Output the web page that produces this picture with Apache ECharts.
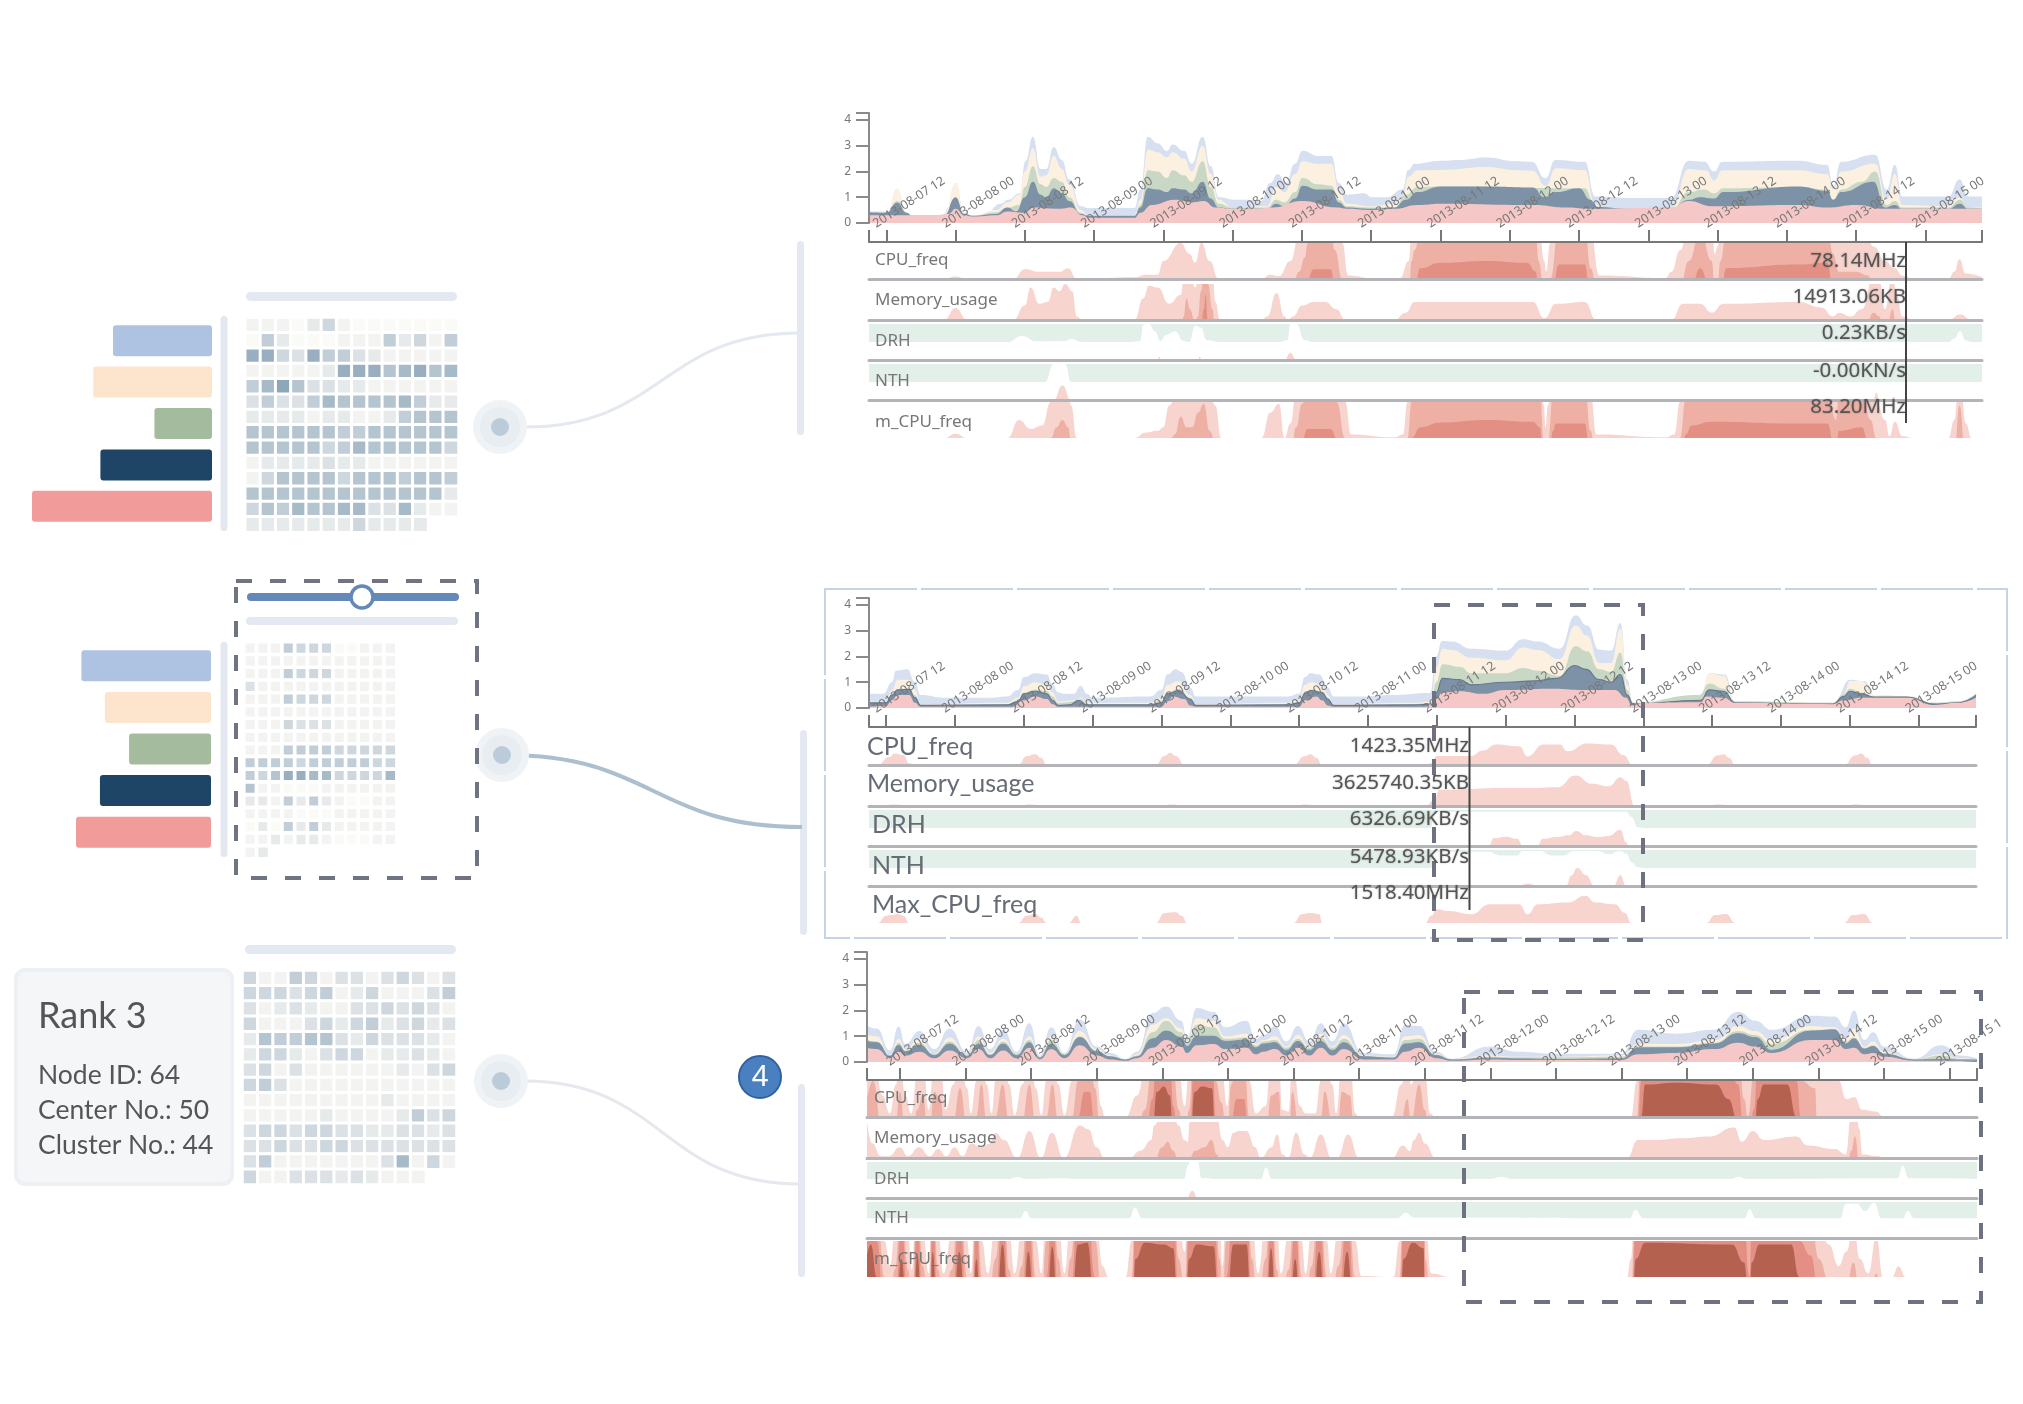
<!DOCTYPE html>
<html>
<head>
<meta charset="utf-8">
<title>Rank views</title>
<script src="https://cdn.jsdelivr.net/npm/echarts@6/dist/echarts.min.js"></script>
<style>
  html, body { margin: 0; padding: 0; background: #fff; }
  #main { width: 2023px; height: 1404px; filter: blur(0.6px); }
</style>
</head>
<body>
<div id="main"></div>
<script>
// ---------- data: x is hours since 2013-08-07 00:00 ----------
const ticksA = ['2013-08-07 12','2013-08-08 00','2013-08-08 12','2013-08-09 00','2013-08-09 12','2013-08-10 00','2013-08-10 12','2013-08-11 00','2013-08-11 12','2013-08-12 00','2013-08-12 12','2013-08-13 00','2013-08-13 12','2013-08-14 00','2013-08-14 12','2013-08-15 00'];
const ticksB = ticksA.concat(['2013-08-15 1']);
const stripNames = ['CPU_freq', 'Memory_usage', 'DRH', 'NTH', 'm_CPU_freq'];
const stripNames2 = ['CPU_freq', 'Memory_usage', 'DRH', 'NTH', 'Max_CPU_freq'];

// row 1, cumulative outlines of the stack
const r1Blue = [[9,.45],[11.5,.45],[12.5,.4],[13.9,1.3],[15.5,.4],[16.5,.28],[21.8,.28],[22.8,.6],[24,1.55],[25.5,.4],[27,.28],[29,.33],[31.8,.75],[33.1,.9],[35.1,1.15],[36.1,2.4],[37.4,3.35],[38.7,2.1],[39.7,2.1],[41,2.95],[42.4,2.45],[43.7,1.7],[45.7,.65],[47,.58],[55,.58],[56,1.3],[57.3,3.35],[59,3.1],[60.6,2.8],[61.6,3.05],[63.6,2.8],[64.9,2.3],[66.8,3.35],[68.2,2.2],[69.6,1],[72.5,.9],[74.5,.9],[76.9,.85],[78.5,1.55],[79.8,1.9],[81.2,1.55],[82.8,2.3],[84.1,2.8],[86.8,2.6],[89.1,2.6],[90.4,1.55],[91.8,1.1],[94.8,1.15],[96.1,1],[98.7,1],[101.4,1.3],[102.4,2.05],[103.5,2.3],[108,2.42],[111.4,2.45],[115.9,2.54],[121,2.4],[123.8,2.38],[126.2,1.74],[127.9,2.45],[133,2.38],[134.8,1.03],[141.7,.97],[147.9,.97],[151,2.42],[153.7,2.38],[155.4,2],[156.8,2.38],[169.9,2.42],[175,2.26],[176,1.42],[177.4,2.38],[183.3,2.65],[185.3,1.3],[186.7,2.26],[188,1.03],[196,1.03],[197.9,1.7],[199.4,1.03],[202,1.03]];
const r1Cream = [[9,.4],[12,.4],[13.9,1.35],[15.5,.4],[16.5,.28],[22,.28],[24,1.55],[25.5,.35],[27,.28],[31,.5],[33,.8],[35,1.1],[36,2],[37.4,2.9],[38.7,1.8],[39.7,1.85],[41,2.6],[42.4,2.1],[43.7,1.5],[45.7,.5],[47,.3],[55,.3],[56,.9],[57.3,2.85],[59,2.75],[60.6,2.55],[61.6,2.75],[63.6,2.5],[64.9,2],[66.8,3],[68.2,1.9],[69.6,.9],[72,.6],[78,.65],[79.5,1.4],[81,1.2],[82.8,1.9],[84.1,2.4],[86.8,2.3],[89.1,2.3],[90.4,1.3],[91.8,.75],[96,.65],[100,.75],[101.4,1],[102.4,1.8],[104,2.05],[108,2.06],[116,2.17],[121,2.05],[124,2.03],[126.2,1.45],[128,2.13],[133,2.06],[134.8,.7],[137,.6],[141,.45],[148,.55],[151,2.1],[154,2.05],[155.4,1.65],[156.8,2.05],[170,2.05],[175,1.9],[176,1.3],[177.4,2],[183.3,2.3],[185.3,.9],[186.7,1.9],[188,.7],[196,.65],[197.9,1],[199.4,.6],[202,.6]];
const r1Green = [[9,.4],[12,.4],[13.9,.85],[15.5,.4],[16.5,.28],[22,.28],[24,.95],[25.5,.35],[27,.28],[31,.42],[33,.6],[35,.7],[36,1.4],[37.4,2.2],[38.7,1.5],[39.7,1.4],[41,1.75],[42.4,1.6],[43.7,1],[45.7,.4],[47,.28],[55,.28],[56,.7],[57.3,2.05],[59,2],[60.6,1.75],[61.6,2.05],[63.6,1.85],[64.9,1.6],[66.8,2.4],[68.2,1.4],[69.6,.75],[72,.6],[78,.6],[79.5,.9],[81,.8],[82.8,1.2],[84.1,1.75],[86.8,1.5],[89.1,1.45],[90.4,.9],[91.8,.65],[96,.6],[100,.6],[102,1.1],[104,1.4],[108,1.42],[133,1.35],[134.8,.65],[141,.45],[148,.5],[151,1.2],[153.7,1.3],[155.4,1.15],[157,1.35],[170,1.4],[175,1.3],[176,.9],[177.4,1.3],[181,1.6],[183.3,2],[185.3,.7],[186.7,.85],[188,.6],[196,.6],[198,.9],[199.4,.6],[202,.55]];
const r1Slate = [[9,.42],[12,.4],[13.9,.8],[15.5,.4],[16.5,.28],[22,.28],[24,1],[25.5,.35],[27,.28],[31,.35],[33,.6],[34.5,.45],[36,1],[37.4,1.6],[38.7,1.1],[39.7,1],[41,1.35],[42.4,1.15],[43.7,.85],[45.7,.35],[47,.28],[55,.28],[56,.6],[57.3,1.35],[59,1.3],[60.6,1.2],[61.6,1.35],[63.6,1.3],[64.9,1.15],[66.8,1.6],[68.2,.95],[69.6,.6],[72,.55],[78,.55],[79.5,.75],[81,.65],[82.8,.95],[84.1,1.45],[86.8,1.3],[89.1,1.3],[90.4,.8],[91.8,.6],[96,.55],[100,.6],[102,.9],[104,1.2],[108,1.42],[116,1.42],[124,1.38],[126,1],[128,1.2],[132,1.35],[134,.9],[135,.62],[141,.55],[148,.55],[151,.9],[153,1],[155.4,.95],[157,1.2],[170,1.42],[175,1.25],[176,.9],[177.4,1.2],[183,1.6],[185,.6],[186.7,.7],[188,.55],[196,.55],[198,.75],[199.4,.55],[202,.55]];
const r1Pink = [[9,.3],[20,.3],[22.8,.35],[24,.55],[25.5,.3],[27,.25],[31,.3],[33,.45],[36,.4],[37.5,.6],[42,.55],[44,.6],[46,.3],[47,.2],[55,.2],[56,.4],[58,.7],[62,.9],[65,.8],[67,.85],[69,.6],[72,.55],[76,.55],[79,.6],[84,.85],[90,.6],[92,.55],[96,.5],[100,.55],[104,.7],[108,.75],[124,.7],[130,.6],[134,.55],[148,.6],[151,.85],[155,.65],[170,.7],[175,.6],[180,.7],[185,.55],[202,.55]];
// row 1, strips (values in band heights, depth = green notch from the top)
const r1Cpu = [[9,0],[22,0],[24,.07],[26,0],[34,0],[36,.27],[38.5,.2],[42,.2],[43.5,.3],[45,0],[55,.05],[57,.12],[59,.12],[60,.5],[63,1],[64.5,.7],[65.5,.45],[66.6,1],[68,.5],[69.6,0],[77,0],[78.5,.12],[80,.08],[82,.5],[83.5,1.2],[84.5,1.6],[85,2],[86,2.27],[89,2.27],[89.7,1.8],[91,1],[92,.1],[96,.03],[101,.03],[102.5,.5],[103,1.5],[103.5,1.8],[104.5,2.3],[108,2.45],[116,2.5],[123,2.45],[124.5,2.2],[125,1.5],[126,.5],[126.3,.2],[127,1],[128.5,2.4],[133,2.4],[134,1.3],[135.5,.1],[147,.03],[148,.2],[149.5,.8],[151,1.5],[153,2.3],[155,1.5],[155.5,.7],[156,.9],[156.5,1.5],[157.5,2.3],[170,2.4],[175,2.45],[176,1.7],[177,1.2],[180,1.2],[182,1.1],[183,.9],[185,.5],[186.7,.3],[188,.1],[190,0],[196,0],[197,.2],[197.9,.55],[199,.15],[202,.03]];
const r1Mem = [[9,0],[22,0],[24,.33],[26,0],[30,0],[31,.03],[32,0],[34,0],[36,.4],[37,.9],[38.5,.45],[40,.5],[41,.9],[42,.8],[43,1],[44.2,.8],[45,.1],[46,0],[55,0],[56.5,.6],[57.5,.95],[59,.9],[61,.45],[63,.7],[63.5,1.1],[64,1.6],[64.6,1.3],[65.5,.9],[66,1.1],[66.5,1.8],[67,2.3],[67.3,2.7],[67.7,2],[68.5,1.3],[69,.5],[69.8,0],[77,0],[78,.1],[79.6,.75],[81,.1],[81.5,0],[82.5,.1],[84,.4],[86,.5],[88,.5],[90,.3],[91.5,0],[100,0],[102,.2],[103.5,.5],[124,.5],[126,.05],[128,.45],[133,.5],[135,0],[148,0],[150,.45],[153,.45],[155,.2],[157,.45],[170,.5],[174,.35],[176,.1],[177,.2],[179,.1],[181,.3],[183,1.2],[184,1.1],[185,.3],[186.3,1.3],[187,.7],[188,.1],[190,0],[196,0],[198,.15],[200,0],[202,0]];
const r1DrhDepth = [[9,.5],[33,.5],[35.5,.33],[38,.48],[43,.47],[44,.42],[46,.5],[54,.5],[56,.48],[56.5,.02],[57.5,0],[58.5,.2],[59.5,.47],[60.5,.3],[62,.2],[63.5,.47],[64.5,.5],[65.5,.05],[66.5,.1],[67.5,.45],[70,.5],[80,.5],[81.5,.45],[82,0],[83,0],[84.5,.45],[86,.5],[196,.5],[197,.4],[198,.2],[199,.45],[200,.5],[202,.5]];
const r1DrhUp = [[9,0],[59,0],[59.3,.1],[59.6,0],[66,0],[66.3,.1],[66.6,0],[81,0],[82,.2],[83,0],[202,0]];
const r1NthDepth = [[9,.5],[39.5,.5],[41,0],[43,0],[44,.5],[202,.5]];
const r1NthUp = [[9,0],[41,0],[42.5,.4],[44,0],[183,0],[183.5,.2],[184,0],[186,0],[186.5,.1],[187,0],[202,0]];
const r1MCpu = [[9,0],[22,0],[24,.12],[26,0],[33,0],[35,.5],[37,.25],[39,.35],[40.5,1],[41.5,1.3],[42.5,1.5],[43.5,1.3],[44,.9],[45,0],[55,0],[57,.15],[59,.2],[60,.3],[61,.9],[62,1.1],[63,1.6],[64,1.3],[65,1.3],[66,1.7],[67,1.95],[68,1.2],[69,.9],[70,0],[77,0],[78.5,.7],[80,.95],[81,0],[82,.4],[83,1.3],[84,1.95],[85,2.25],[89,2.25],[90,2],[91.5,1],[92.5,.1],[100,.02],[101.5,.1],[102.3,1],[103,2],[104.5,2.3],[108,2.43],[116,2.5],[124,2.45],[125.2,2.3],[125.9,.9],[126.2,.3],[126.6,.9],[127.5,2.2],[128,2.4],[133,2.4],[134,1.2],[135,.1],[147,.02],[148.5,.1],[149.5,1],[150.5,2.1],[151.5,2.35],[155,2.45],[170,2.4],[175,2.4],[176.5,1.5],[177,2.2],[181,2.3],[182.5,1.5],[183.5,1],[185,.5],[185.8,.05],[186.7,.45],[188,.05],[190,0],[196,0],[197,.5],[197.9,1.9],[199,.4],[200,0],[202,0]];

// row 2
const r2Blue = [[9,.55],[11.5,.55],[13,1],[13.7,1.45],[15.7,1.5],[17,1],[18,.5],[22,.4],[30,.4],[33,.45],[35,.7],[36,1.2],[38,1.35],[40,1.3],[41,.9],[42,.6],[43,.55],[44.7,.55],[45.9,.85],[47,.55],[48,.4],[58,.45],[60,.7],[61,1.3],[62.5,1.5],[63.5,1.4],[65,.8],[66,.45],[82,.45],[84,.55],[85,1.2],[86,1.35],[87.5,1.3],[89,.8],[90,.45],[96,.45],[100,.5],[106.8,.58],[107.9,2],[108.9,2.6],[110.6,2.58],[114,2.3],[120,2.23],[123,2.67],[125.6,2.58],[129.4,2.3],[132.2,3.6],[134.2,3.2],[136.3,2.26],[138.4,2.23],[140,3.3],[141.2,1.1],[142.2,.2],[144.7,.2],[153.7,.32],[155.8,1.35],[158.2,1.3],[160,.25],[177.3,.2],[180,1.1],[182.5,1.05],[184.3,.5],[190.5,.45],[194.7,.2],[198.8,.25],[202,.58]];
const r2Cream = [[9,.25],[12,.25],[13,.7],[14,1.1],[16,1.1],[17,.7],[18,.15],[33,.2],[35,.4],[36,.85],[38,1],[40,.9],[41,.6],[42,.25],[45,.3],[46,.4],[47,.2],[58,.2],[60,.4],[61,.9],[63,1.05],[65,.5],[66,.15],[82,.2],[84,.3],[85,.9],[86,1],[88,.9],[89,.5],[90,.15],[104,.2],[107,.25],[107.9,1.6],[109,2.3],[110.6,2.25],[114,1.95],[120,1.85],[123,2.35],[125.6,2.25],[129.4,1.9],[132.2,3.2],[134.2,2.8],[136.3,1.75],[138.4,1.75],[140,3.1],[141.2,.9],[142.2,.2],[153.7,.32],[155.5,1.35],[158,1.25],[160,.25],[177,.2],[179,.55],[180,1.05],[182,1.05],[184.3,.5],[190,.45],[194.7,.2],[198.8,.25],[202,.5]];
const r2Green = [[9,.2],[12,.22],[13,.55],[14,.75],[16,.75],[17,.5],[18,.12],[33,.15],[35,.3],[36,.6],[38,.72],[40,.65],[41,.45],[42,.2],[45,.25],[46,.35],[47,.15],[58,.15],[60,.3],[61,.6],[63,.75],[65,.4],[66,.12],[82,.15],[84,.22],[85,.6],[86,.72],[88,.65],[89,.4],[90,.12],[104,.15],[107,.2],[107.9,1],[109,1.7],[112,1.6],[114,1.35],[120,1.35],[123,1.55],[125.6,1.45],[129.4,1.25],[132.2,2.4],[134.2,2.2],[136.3,1.5],[138.4,1.4],[140,2.15],[141.2,.7],[142.2,.2],[153.7,.5],[155.5,.95],[158,.75],[160,.25],[177,.2],[179,.55],[180,.75],[182,.6],[184.3,.45],[190,.45],[194.7,.2],[198.8,.25],[202,.5]];
const r2Slate = [[9,.2],[12,.2],[13,.5],[14,.7],[16,.72],[17,.4],[18,.1],[33,.12],[35,.25],[36,.55],[38,.65],[40,.55],[41,.3],[42,.1],[44,.12],[45.5,.3],[47,.12],[58,.12],[60,.2],[61,.55],[63,.68],[65,.35],[66,.1],[82,.12],[84,.2],[85,.55],[86,.68],[88,.6],[89,.35],[90,.1],[104,.12],[107,.15],[107.9,.6],[109,1.15],[112,1.1],[114,.9],[120,1],[125,1.05],[129,1.15],[132,1.65],[134,1.5],[136.3,1.1],[138.4,1],[140,1.3],[141.2,.5],[142.2,.15],[154,.3],[155.5,.7],[158,.65],[160,.2],[177,.15],[179,.45],[180,.65],[182,.55],[184.3,.42],[190,.42],[194.7,.15],[198.8,.2],[202,.5]];
const r2Pink = [[9,.05],[12,.08],[13,.3],[14,.5],[16,.5],[17,.2],[18,.05],[34,.05],[36,.3],[38,.45],[40,.35],[41,.15],[42,.05],[60,.05],[61,.25],[62,.45],[64,.35],[65,.1],[66,.05],[84,.05],[85,.3],[87,.45],[88,.3],[89,.1],[90,.05],[106,.05],[107.9,.35],[109,.6],[112,.65],[116,.55],[120,.7],[128,.75],[134,.7],[139,.7],[141,.4],[142,.1],[144,.2],[154,.22],[155,.45],[158,.4],[160,.2],[177,.15],[179,.3],[182,.4],[184.3,.4],[190,.4],[194.7,.12],[198.8,.2],[202,.4]];
const r2Cpu = [[9,0],[10.5,0],[12.5,.22],[13.5,.32],[15,.28],[16,.05],[17,0],[35,0],[36.5,.25],[38,.3],[39,.2],[40,0],[59,0],[60.5,.25],[61.5,.33],[62.5,.25],[64,0],[83,0],[85,.25],[86,.3],[87,.2],[88,0],[106,0],[107,.05],[108,.25],[114,.25],[116,.4],[118.3,.57],[122.4,.52],[123.8,.24],[126.6,.57],[129.4,.57],[130.8,.38],[134.2,.6],[138.4,.57],[140.5,.28],[142.2,0],[155,0],[157,.27],[158,.3],[159,.2],[160,0],[179,0],[181,.27],[182,.32],[183,.2],[184,0],[202,0]];
const r2Mem = [[9,0],[10.5,0],[13.5,.04],[16,0],[35,0],[37,.04],[40,0],[59,0],[62,.04],[64,0],[83,0],[85,.04],[88,0],[106,0],[107.5,.15],[108.5,.45],[120,.5],[125,.5],[129,.52],[132.2,.85],[135,.62],[138,.55],[140,.8],[141,.7],[142.5,0],[155,0],[157,.04],[160,0],[179,0],[181,.04],[184,0],[202,0]];
const r2DrhDepth = [[9,.5],[107,.5],[107.5,.1],[108,.05],[141,.05],[142,.2],[143,.48],[144,.5],[202,.5]];
const r2DrhUp = [[9,0],[117,0],[118,.22],[120,.26],[122,.2],[123,0],[125.5,0],[126.5,.2],[129,.25],[131,.3],[132.3,.42],[134,.3],[136,.25],[138,.28],[140,.45],[141,.1],[141.5,0],[202,0]];
const r2NthDepth = [[9,.5],[107,.5],[107.5,.1],[108,.05],[117,.05],[119,.15],[122,.15],[123,.03],[126,.03],[128,.15],[130,.15],[132,.03],[136,.03],[138,.12],[140,.03],[141,.1],[142,.35],[143,.48],[144,.5],[202,.5]];
const r2NthUp = [[9,0],[113,0],[115,.03],[117,0],[122,0],[124,.06],[125.5,0],[130.5,0],[131.5,.3],[132.5,.5],[134,.3],[135.5,0],[138.8,0],[140,.3],[141,0],[202,0]];
const r2MaxCpu = [[9,0],[10.5,0],[12,.2],[13,.22],[14,.25],[15,.2],[16,0],[35,0],[36.5,.2],[38,.25],[39,.15],[40,0],[43.8,0],[45.2,.2],[46,0],[59,0],[60.5,.28],[62.5,.3],[63.5,.2],[64.5,0],[83,0],[84.5,.25],[86,.28],[87.5,.25],[88,0],[106,0],[107,.2],[108,.38],[110,.33],[114,.24],[117.2,.52],[122.4,.52],[123.8,.24],[125.6,.52],[130.8,.57],[133.9,.76],[135.6,.57],[139,.52],[140.8,.28],[141.9,0],[155,0],[156.5,.22],[158.5,.25],[160,0],[179,0],[180.5,.22],[182.5,.25],[184,0],[202,0]];

// row 3
const r3Hours = [6,7.8,10.2,11.8,13,15.6,18.3,21.1,24.3,26.4,28.5,30.9,33.4,35.7,37.6,39.7,42.1,44.9,48,50.5,53.3,55.4,58.2,60.7,63.5,64.5,66.3,69.4,71.5,75.4,77.1,78.5,80.6,82.7,84.8,86.9,89,91.1,93.2,96.7,102.3,104.4,107,110,113,120,125,132,144,147,154,161,165.3,168.5,171.4,178.6,183,185,186.5,188.4,190,192,197.5,202.5,206,209];
const r3Blue = [1.4,1.3,.45,1.38,.7,1.2,.5,1.3,.4,1.4,.5,1.25,.4,1.5,.25,1.35,.35,1.65,.6,.35,.12,.4,1.9,2.15,1.6,.95,2.1,1.95,1.35,1.6,.9,1.05,1.4,.8,1.4,.8,1.5,.8,1.5,.35,.3,1.45,1.4,.4,.13,.6,.4,.32,.32,1.25,1.1,1.25,1.95,1.6,1.25,1.8,1.77,1.35,2,.85,1.15,.6,.13,.65,.25,.13];
const r3Cream = [1.05,1,.25,.9,.5,.9,.3,.95,.25,1,.35,.9,.3,1,.2,1,.3,1.2,.5,.25,.1,.3,1.45,1.7,1.3,.8,1.7,1.6,1,1.1,.7,.85,1,.6,1.05,.6,1.1,.6,1.05,.25,.2,1,1.05,.3,.12,.25,.2,.2,.25,.7,.7,.85,1.4,1.2,.85,1.4,1.35,.9,1.3,.6,.8,.4,.1,.3,.15,.1];
const r3Green = [.85,.8,.25,.75,.45,.75,.3,.8,.25,.85,.3,.8,.3,.85,.2,.85,.3,1,.45,.22,.1,.25,1.15,1.6,1.15,.75,1.45,1.35,.9,.95,.65,.8,.85,.55,.9,.55,.95,.55,.9,.22,.18,.85,.9,.28,.1,.2,.18,.18,.2,.6,.6,.75,1.2,1.05,.7,1.25,1.25,.8,.95,.55,.65,.35,.1,.25,.12,.1];
const r3Slate = [.8,.75,.22,.65,.4,.65,.25,.7,.22,.7,.25,.7,.25,.75,.15,.7,.25,.95,.4,.2,.08,.2,.9,1.2,.95,.6,1,1,.8,.85,.55,.7,.75,.45,.8,.45,.8,.45,.75,.2,.15,.7,.75,.25,.08,.15,.12,.1,.12,.55,.55,.7,1.1,.95,.45,1.2,1.25,.7,.9,.5,.6,.3,.08,.1,.08,.08];
const r3Pink = [.55,.5,.15,.4,.25,.4,.15,.45,.15,.5,.15,.45,.15,.55,.1,.5,.15,.65,.25,.1,.05,.15,.55,.85,.6,.35,.65,.7,.5,.55,.3,.4,.5,.25,.55,.25,.55,.25,.5,.1,.1,.4,.55,.15,.05,.1,.08,.08,.08,.3,.35,.5,.75,.6,.35,.85,.85,.5,.55,.3,.35,.2,.05,.05,.05,.05];
const r3Cpu = [[6,1.5],[7.1,2],[8.8,.6],[10.2,.1],[11.3,.9],[12,1.7],[13,.6],[14.1,.1],[15.2,1.2],[16.2,1.6],[17.3,.2],[18.3,1.7],[19.4,1.5],[20.4,.2],[21.8,.9],[23,1.8],[24.3,.8],[25,.1],[26,1],[26.9,1.9],[27.9,.9],[28.8,.1],[29.5,1],[30.8,1.9],[32,.9],[33,.05],[34.4,.9],[35.7,1.9],[36.9,.8],[37.9,.05],[38.8,1],[39.9,1.9],[41,.9],[42.1,.05],[43.5,1],[44.6,2],[45.8,2.7],[46.7,2.7],[47.7,1.8],[48.8,.3],[49.5,0],[53.3,0],[55.4,.6],[56.8,1.2],[58.2,2.5],[59,3.7],[60.3,3.85],[61.4,3.6],[62,2.3],[63,1.2],[64.1,.3],[64.9,1.2],[65.9,3.7],[67.3,3.85],[69.1,3.8],[69.8,2],[70.8,1.4],[71.9,.3],[72.6,1.9],[73.6,2.5],[75,2.5],[75.9,1],[77.1,.1],[78.9,.3],[79.9,1.6],[81.3,1.7],[81.9,.2],[83.1,.15],[83.8,1.7],[85.2,.3],[86.2,.1],[88,.1],[89,1],[89.7,1.7],[91.1,.9],[91.8,.1],[92.9,1.7],[94.3,1.6],[95.3,.1],[96,0],[102,0],[103.7,.9],[104.8,1.5],[105.5,.9],[107,1.9],[108,1.2],[109,.1],[110,0],[145.7,0],[146.8,1],[147.6,3],[148.3,3.9],[154,3.95],[161.3,3.9],[163.5,3.5],[165.3,2.9],[166.4,1.5],[167.1,1],[168.2,2.2],[168.9,3.5],[170,3.9],[174.3,3.9],[176,3],[176.8,2],[179.4,1.8],[179.7,1],[183.7,1],[185.1,.5],[186.6,.55],[188,.2],[190.6,.15],[191.7,.03],[194.6,.03],[196,0],[209,0]];
const r3Mem = [[6,1],[7,.4],[8.5,.05],[10,.05],[12,.3],[13.5,.05],[15.5,.3],[17.5,.05],[19,.25],[20.5,.05],[22,.3],[23.5,.05],[25,.4],[27,.3],[28.5,.4],[29.5,.7],[31,.5],[33.5,0],[35.7,.75],[37.8,0],[39.8,.7],[42,0],[44.9,.9],[46.5,.8],[48,.3],[49.5,0],[54,0],[56,.2],[58,.5],[58.5,.9],[60,1.3],[61,1.45],[62,1.2],[63,.9],[64,.5],[64.7,.45],[65,1],[66,1.2],[67.7,1.3],[69,1.5],[70,1.1],[71,.5],[72,.3],[73,.7],[74,.75],[75.4,.75],[77,.3],[78,0],[80,.3],[81,.65],[82,.1],[83,0],[84.5,.7],[86,.1],[87,0],[89,.65],[91,0],[92,0],[94,.65],[96,0],[102,0],[104,.35],[105.3,.2],[106,.5],[107,.7],[108,.4],[110,0],[145,0],[147,.5],[150,.5],[155,.55],[160,.6],[164.6,.85],[166,.45],[168,.75],[170,.5],[176,.6],[178,.35],[183,.25],[185,.1],[186,1.2],[186.7,1.6],[187.5,.8],[188,.1],[191,.05],[192,0],[209,0]];
const r3DrhDepth = [[6,.47],[32,.47],[33.5,.42],[35,.47],[42,.45],[44,.47],[64,.47],[64.7,.1],[65,0],[66.5,0],[67.2,.45],[70,.47],[78,.47],[79,.15],[80,.47],[120,.47],[122,.42],[124,.47],[164,.47],[165.3,.42],[167,.47],[194.5,.45],[195.4,.1],[196.5,.45],[209,.47]];
const r3DrhUp = [[6,0],[64.5,0],[65.5,.2],[66.5,0],[209,0]];
const r3NthDepth = [[6,.45],[34,.45],[35,.25],[36,.45],[54,.45],[55,.15],[56.3,.45],[103,.45],[104.5,.3],[106,.43],[145.5,.45],[146.5,.22],[148,.45],[166.5,.45],[167.4,.2],[168.5,.45],[184,.45],[185,.05],[187,.05],[188.5,.25],[190.2,.02],[191.5,.45],[195.5,.45],[196.3,.25],[197.5,.45],[209,.45]];
const r3MCpu = [[6,3.6],[6.7,3.9],[7.8,3],[9.2,1],[10.2,.3],[11.1,1.2],[12.3,3.5],[13.5,1.2],[14.2,.2],[15.2,3.6],[16.2,1.3],[17.3,.1],[18,3.7],[19,1.2],[20,.1],[21.5,1.2],[22.9,3.7],[24.3,1],[25,.1],[26,3.5],[27,1],[28.1,.1],[29.5,1.5],[30.8,3.9],[32,1.2],[33,.1],[34.3,1.3],[35.5,3.7],[36.9,1],[37.9,.1],[38.8,2],[39.9,3.85],[41,1.5],[42.1,.1],[43.2,1.5],[44.6,3.9],[46.3,3.95],[47.7,2],[49.1,.3],[50.2,0],[53.3,0],[54.4,1],[55.1,3.5],[56.8,3.95],[60.3,3.9],[62,3.8],[63,1.5],[64.1,.7],[64.9,3.5],[66.3,3.9],[69.4,3.85],[70.5,1.5],[71,.3],[71.7,2],[73,3.9],[75.4,3.9],[76.4,1.5],[77.5,.1],[78.9,1.5],[79.9,3.8],[81,1.2],[81.7,.1],[83.1,1.2],[84.3,3.5],[85.5,1],[86.2,.1],[87.3,1.3],[88.7,3.7],[90.1,1],[90.8,.1],[92.2,1.3],[93.8,3.7],[95.3,1],[96.4,.03],[102.3,0],[103.4,1],[104.1,3.5],[105.8,3.95],[107.8,3.8],[108.1,1.5],[109.2,.1],[112.8,0],[145,0],[145.7,.5],[146.6,3.5],[148.3,3.95],[164.2,3.9],[166.4,3.4],[167.4,2],[167.8,3.4],[169.2,3.9],[175,3.9],[176.5,3],[178.6,2.6],[180.1,1.5],[181.9,.9],[183.7,.3],[185.1,.7],[186.4,1.4],[187.6,.5],[189.1,.1],[190.6,1.1],[191.8,0],[193.5,0],[194.6,.3],[196,0],[209,0]];

// left side, bars and cell grids
const barsTop = [.55, .66, .32, .62, 1];
const barsMid = [.72, .59, .455, .617, .75];
const cellsTop = [
  [1,1,1,0,2,4,1,0,0,0,0,0,0,0],
  [0,5,2,0,0,0,1,1,1,5,2,4,1,5],
  [8,8,4,3,8,5,5,3,2,1,1,1,1,1],
  [1,1,1,1,1,2,8,8,8,6,7,8,6,7],
  [5,7,9,6,3,3,2,2,1,1,1,1,1,1],
  [3,5,3,3,5,7,6,6,6,6,7,5,2,2],
  [2,2,2,2,1,2,2,1,1,2,5,6,6,6],
  [6,6,6,6,6,6,5,5,6,6,6,6,6,6],
  [6,6,6,6,6,4,5,7,6,6,6,6,6,4],
  [1,2,2,2,2,3,2,2,1,1,1,1,1,1],
  [1,4,6,6,6,6,4,6,6,6,5,6,6,5],
  [6,6,6,6,6,6,6,6,6,6,6,6,6,2],
  [4,6,5,7,6,6,7,7,3,3,7,2,1,1],
  [2,2,2,2,2,2,2,4,2,2,2,2]
];
const cellsMid = [
  [1,1,1,5,4,4,4,0,0,1,1,1],
  [1,1,1,1,1,1,1,1,1,1,1,1],
  [1,1,1,5,4,4,4,1,1,1,1,1],
  [3,1,1,1,1,1,1,1,1,1,1,1],
  [1,1,1,5,4,4,4,1,1,1,1,1],
  [1,1,1,1,1,1,1,1,1,1,1,1],
  [1,1,1,4,3,3,3,1,1,1,1,1],
  [1,1,1,1,1,1,1,1,1,1,1,1],
  [1,1,1,5,5,5,5,4,4,4,4,4],
  [5,5,5,5,4,5,5,5,5,5,4,4],
  [5,4,6,8,8,7,7,4,4,4,4,7],
  [6,1,1,0,0,0,1,1,1,1,1,1],
  [2,2,1,5,2,5,2,1,0,0,1,1],
  [1,1,1,1,0,0,0,1,1,1,1,1],
  [0,2,0,5,2,5,2,1,1,1,1,1],
  [1,1,2,1,2,2,1,0,0,0,1,1],
  [1,2]
];
const cellsBot = [
  [4,1,1,5,4,1,3,3,1,3,4,3,1,3],
  [4,4,4,3,4,5,1,2,4,1,1,1,3,5],
  [3,1,2,3,2,1,1,3,3,4,3,4,3,1],
  [4,1,1,1,3,4,2,4,5,2,3,4,2,3],
  [2,6,5,5,6,6,3,2,4,3,3,3,2,1],
  [2,4,4,2,1,3,4,4,1,2,2,3,2,1],
  [3,4,1,3,1,1,1,1,1,1,2,1,3,4],
  [4,5,3,1,1,1,1,1,1,1,1,1,1,1],
  [1,1,1,1,1,1,1,1,1,2,1,1,1,1],
  [1,1,1,1,1,2,1,1,1,1,2,5,3,4],
  [3,4,4,3,4,4,3,3,2,2,3,3,2,3],
  [3,3,4,3,3,4,4,3,3,3,3,3,3,3],
  [3,5,1,1,1,1,1,1,1,3,7,1,4,1],
  [4,1,1,3,3,3,2,3,2,1,1,1]
];

// ---------- layout and styles ----------
const layerColors = ['#d6e0f1', '#fcf0e1', '#c9d8c5', '#7d92a7', '#f6c7c7'];
const bandColors = ['#f7d4cd', '#eeb0a4', '#e38f83', '#b5614f'];
const barColors = ['#aec2e2', '#fde5cd', '#a4bb9e', '#1e4565', '#f29b9b'];
const tickFont = 'Noto Sans';

let grids = [], xAxes = [], yAxes = [], series = [], gfx = [];

function addGrid(left, top, width, height) {
  grids.push({ left: left, top: top, width: width, height: height });
  return grids.length - 1;
}

function addArea(idx, data, color, z, extra) {
  series.push(Object.assign({
    type: 'line', xAxisIndex: idx, yAxisIndex: idx, data: data, smooth: 0.5, smoothMonotone: 'x',
    symbol: 'none', silent: true, z: z, lineStyle: { width: 0 },
    areaStyle: { color: color, opacity: 1 }
  }, extra || {}));
}

// one stacked overview with its time axis, ticks every 12 hours plus both ends
function addOverview(cfg, layers, tickLabels, slateLine) {
  let idx = addGrid(cfg.left, cfg.axisTop, cfg.width, cfg.y0 - cfg.axisTop);
  let labelHours = tickLabels.map(function (t, i) { return 12 + 12 * i; });
  xAxes.push({
    gridIndex: idx, type: 'value', min: cfg.xMin, max: cfg.xMax, position: 'bottom',
    offset: cfg.tickBase - cfg.y0, splitLine: { show: false }, z: 9,
    axisLine: { onZero: false, lineStyle: { color: '#777', width: 2 } },
    axisTick: { inside: true, length: 12, lineStyle: { color: '#777', width: 2 }, customValues: [cfg.xMin].concat(labelHours, [cfg.xMax]) },
    axisLabel: {
      inside: true, rotate: 33, margin: 17, align: 'left', verticalAlign: 'bottom', padding: [0, 0, 0, -10],
      color: '#777', fontSize: 12.5, fontFamily: tickFont, hideOverlap: false, customValues: labelHours,
      formatter: function (v) { return tickLabels[(v - 12) / 12] || ''; }
    }
  });
  yAxes.push({
    gridIndex: idx, type: 'value', min: 0, max: cfg.yMax, interval: 1, splitLine: { show: false }, z: 9,
    axisLine: { show: true, onZero: false, lineStyle: { color: '#8a8a8a', width: 2 } },
    axisTick: { show: true, length: 13, lineStyle: { color: '#8a8a8a', width: 2 } },
    axisLabel: {
      margin: 18, color: '#777', fontSize: 12, fontFamily: tickFont,
      formatter: function (v) { return Number.isInteger(v) ? String(v) : ''; }
    }
  });
  layers.forEach(function (d, i) {
    addArea(idx, d, layerColors[i], 3 + i, i === 3 && slateLine ? { lineStyle: slateLine } : {});
  });
}

// one horizon strip: up values wrap over four bands, depth hangs from the top
function addStrip(cfg, top, height, up, depth, sep) {
  let idx = addGrid(cfg.left, top, cfg.width, height);
  xAxes.push({
    gridIndex: idx, type: 'value', min: cfg.xMin, max: cfg.xMax, splitLine: { show: false },
    axisTick: { show: false }, axisLabel: { show: false },
    axisLine: { show: sep, onZero: false, lineStyle: { color: '#b4b3b8', width: 3 } }, z: 8
  });
  yAxes.push({ gridIndex: idx, type: 'value', min: 0, max: 1, show: false });
  if (depth) {
    addArea(idx, depth.map(function (p) { return [p[0], 1 - p[1]]; }), '#e3efe9', 2, { areaStyle: { color: '#e3efe9', opacity: 1, origin: 'end' } });
  }
  if (up) {
    bandColors.forEach(function (c, k) {
      addArea(idx, up.map(function (p) { return [p[0], p[1] - k]; }), c, 3 + k);
    });
  }
}

function addBars(left, top, width, height, values) {
  let idx = addGrid(left, top, width, height);
  xAxes.push({ gridIndex: idx, type: 'value', min: 0, max: 1, inverse: true, show: false });
  yAxes.push({ gridIndex: idx, type: 'category', data: ['a', 'b', 'c', 'd', 'e'], inverse: true, show: false });
  series.push({
    type: 'bar', xAxisIndex: idx, yAxisIndex: idx, barWidth: 31, silent: true,
    data: values.map(function (v, i) {
      return { value: v, itemStyle: { color: barColors[i], borderRadius: 3 } };
    })
  });
}

let heatSeries = [];
function addCells(left, top, width, height, rows, nCols, gap) {
  let idx = addGrid(left, top, width, height);
  let xs = [], ys = [], data = [];
  for (let i = 0; i < nCols; i++) xs.push(i);
  rows.forEach(function (r, y) {
    ys.push(y);
    r.forEach(function (v, x) { data.push([x, y, v]); });
  });
  xAxes.push({ gridIndex: idx, type: 'category', data: xs, show: false });
  yAxes.push({ gridIndex: idx, type: 'category', data: ys, inverse: true, show: false });
  heatSeries.push(series.length);
  series.push({
    type: 'heatmap', xAxisIndex: idx, yAxisIndex: idx, data: data, silent: true,
    itemStyle: { borderColor: '#fff', borderWidth: gap }
  });
}

function text(str, x, y, size, family, color, align, shadow) {
  let st = { text: str, fontSize: size, fontFamily: family, fill: color, textAlign: align || 'left', textVerticalAlign: 'middle' };
  if (shadow) { st.textShadowColor = 'rgba(0,0,0,0.3)'; st.textShadowBlur = 2; }
  gfx.push({ type: 'text', x: x, y: y, z: 100, style: st, silent: true });
}
function rect(x, y, w, h, fill, r, extra) {
  gfx.push({ type: 'rect', z: 90, silent: true, shape: { x: x, y: y, width: w, height: h, r: r || 0 }, style: Object.assign({ fill: fill }, extra || {}) });
}
function dashed(x, y, w, h, color, lineWidth, dash) {
  gfx.push({ type: 'rect', z: 95, silent: true, shape: { x: x, y: y, width: w, height: h }, style: { fill: 'transparent', stroke: color, lineWidth: lineWidth, lineDash: dash } });
}
function vline(x, y1, y2, color, w) {
  gfx.push({ type: 'line', z: 96, silent: true, shape: { x1: x, y1: y1, x2: x, y2: y2 }, style: { stroke: color, lineWidth: w } });
}
function node(x, y) {
  [[27, '#f0f3f6'], [20, '#e8edf2'], [9, '#bccbd9']].forEach(function (c) {
    gfx.push({ type: 'circle', z: 92, silent: true, shape: { cx: x, cy: y, r: c[0] }, style: { fill: c[1] } });
  });
}
function link(x1, y1, x2, y2, color, w) {
  let mx = (x1 + x2) / 2;
  gfx.push({ type: 'bezierCurve', z: 91, silent: true, shape: { x1: x1, y1: y1, x2: x2, y2: y2, cpx1: mx, cpy1: y1, cpx2: mx, cpy2: y2 }, style: { stroke: color, lineWidth: w, fill: 'none' } });
}

// ---------- the three right hand rows ----------
const rowTop = { left: 869, width: 1113, xMin: 9, xMax: 201.8, axisTop: 113, y0: 223, tickBase: 242, yMax: 4.27 };
const rowMid = { left: 869, width: 1107, xMin: 9, xMax: 202, axisTop: 598, y0: 708, tickBase: 727, yMax: 4.27 };
const rowBot = { left: 867, width: 1110, xMin: 6, xMax: 209, axisTop: 952, y0: 1062, tickBase: 1080, yMax: 4.27 };

addOverview(rowTop, [r1Blue, r1Cream, r1Green, r1Slate, r1Pink], ticksA, null);
addStrip(rowTop, 243, 36, r1Cpu, null, true);
addStrip(rowTop, 284, 36, r1Mem, null, true);
addStrip(rowTop, 324, 36, r1DrhUp, r1DrhDepth, true);
addStrip(rowTop, 364, 36, r1NthUp, r1NthDepth, true);
addStrip(rowTop, 402, 36, r1MCpu, null, false);

addOverview(rowMid, [r2Blue, r2Cream, r2Green, r2Slate, r2Pink], ticksA, { width: 1.2, color: '#66798c' });
addStrip(rowMid, 729, 36, r2Cpu, null, true);
addStrip(rowMid, 770, 36, r2Mem, null, true);
addStrip(rowMid, 810, 36, r2DrhUp, r2DrhDepth, true);
addStrip(rowMid, 850, 36, r2NthUp, r2NthDepth, true);
addStrip(rowMid, 887, 36, r2MaxCpu, null, false);

const r3Stack = [r3Blue, r3Cream, r3Green, r3Slate, r3Pink].map(function (vals) {
  return vals.map(function (v, i) { return [r3Hours[i], v]; });
});
addOverview(rowBot, r3Stack, ticksB, { width: 1, color: '#7d92a7' });
addStrip(rowBot, 1081, 36, r3Cpu, null, true);
addStrip(rowBot, 1122, 36, r3Mem, null, true);
addStrip(rowBot, 1162, 36, r3DrhUp, r3DrhDepth, true);
addStrip(rowBot, 1202, 36, null, r3NthDepth, true);
addStrip(rowBot, 1241, 36, r3MCpu, null, false);

// ---------- the left hand panels ----------
addBars(32, 320, 180, 207, barsTop);
addCells(245.2, 317.5, 213.3, 214.7, cellsTop, 14, 3);
addBars(31, 645, 180, 208, barsMid);
addCells(244, 642, 152.7, 216.7, cellsMid, 12, 3.7);
addCells(242.5, 970.5, 214, 214, cellsBot, 14, 3);

// ---------- annotations ----------
rect(246, 292, 211, 9, '#e4e9f1', 4.5);
rect(246, 617, 212, 8, '#e4e9f1', 4);
rect(245, 945, 211, 9, '#e4e9f1', 4.5);
rect(220.5, 316, 7, 215, '#e2e7f0', 3.5);
rect(220.5, 642, 7, 215, '#e2e7f0', 3.5);

rect(247, 593, 212, 8, '#6488b8', 4);
gfx.push({ type: 'circle', z: 92, silent: true, shape: { cx: 362, cy: 597, r: 11 }, style: { fill: '#fff', stroke: '#6488b8', lineWidth: 3.5 } });
dashed(236, 581, 241, 297, '#707480', 4, [16, 18]);

node(500, 427); node(502, 755); node(501, 1081);
link(525, 427, 800, 333, '#e4e8ef', 3);
link(505, 755, 802, 827, '#abbfcf', 4);
link(525, 1081, 800, 1184, '#e6e8ee', 3);
rect(797, 241, 7, 194, '#e4e8f0', 3.5);
rect(800, 730, 7, 205, '#e4e8f0', 3.5);
rect(798, 1084, 7, 193, '#e4e8f0', 3.5);

rect(16, 970, 216, 214, '#f5f6f8', 9, { stroke: '#edf0f4', lineWidth: 4 });
text('Rank 3', 38, 1016, 36, 'Lato', '#555');
text('Node ID: 64', 38, 1075, 26.5, 'Lato', '#555');
text('Center No.: 50', 38, 1110, 26.5, 'Lato', '#555');
text('Cluster No.: 44', 38, 1145, 26.5, 'Lato', '#555');

gfx.push({ type: 'circle', z: 92, silent: true, shape: { cx: 760, cy: 1077, r: 21 }, style: { fill: '#4a80c0', stroke: '#2f62a3', lineWidth: 2 } });
text('4', 760, 1078, 29, 'Noto Sans', '#fff', 'center');

dashed(825, 589, 1182, 349, '#c5d3e5', 2, [92, 4]);
dashed(1434, 605, 209, 335, '#6e7280', 4, [16, 18]);
dashed(1464, 992, 517, 310, '#6e7280', 4, [16, 18]);

vline(1906, 242, 423, '#444', 2);
vline(1469.5, 727, 910, '#444', 2);

stripNames.forEach(function (n, i) {
  text(n, 875, [260, 300, 341, 381, 422][i], 17, 'Noto Sans', '#777');
  text(n, 874, [1098, 1138, 1179, 1218, 1259][i], 17, 'Noto Sans', '#777');
});
stripNames2.forEach(function (n, i) {
  text(n, i < 2 ? 867 : 872, [747, 784, 825, 866, 905][i], 25, 'Lato', '#666c75');
});

['78.14MHz', '14913.06KB', '0.23KB/s', '-0.00KN/s', '83.20MHz'].forEach(function (t, i) {
  text(t, 1906, [261, 297, 333, 371, 407][i], 20.5, 'Noto Sans', '#555', 'right', true);
});
['1423.35MHz', '3625740.35KB', '6326.69KB/s', '5478.93KB/s', '1518.40MHz'].forEach(function (t, i) {
  text(t, 1469, [746, 783, 819, 857, 893][i], 20.5, 'Noto Sans', '#555', 'right', true);
});

let chart = echarts.init(document.getElementById('main'));
chart.setOption({
  animation: false,
  backgroundColor: '#fff',
  grid: grids,
  xAxis: xAxes,
  yAxis: yAxes,
  visualMap: {
    show: false, min: 0, max: 9, dimension: 2, seriesIndex: heatSeries,
    inRange: { color: ['#fafaf6', '#f3f4f1', '#e6eaea', '#dbe1e4', '#cdd7dd', '#c1ced7', '#b5c5d0', '#a7bac8', '#99afc1', '#8ca6ba'] }
  },
  series: series,
  graphic: { elements: gfx }
});
window.addEventListener('resize', function () { chart.resize(); });
</script>
</body>
</html>
